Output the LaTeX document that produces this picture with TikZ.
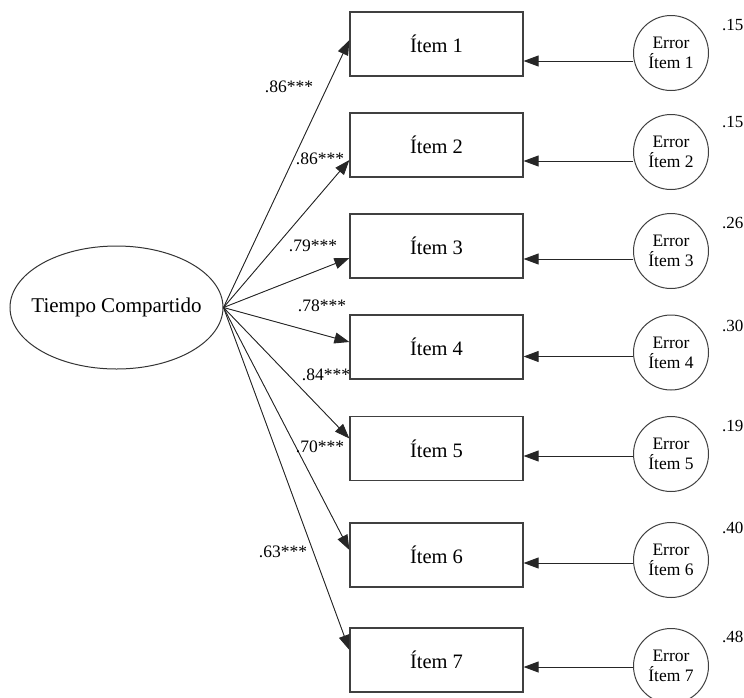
\documentclass[tikz,border=0pt]{standalone}
\usepackage{fontspec}
\setmainfont{Liberation Serif}
\usetikzlibrary{arrows.meta,shapes.geometric}

\begin{document}
\begin{tikzpicture}[
  x=1pt, y=-1pt,
  item/.style={draw=black!75, line width=1.2pt, minimum width=173pt, minimum height=64pt, inner sep=0pt, font=\fontsize{20.5}{24}\selectfont},
  error/.style={draw=black!75, line width=1pt, circle, minimum size=75pt, inner sep=0pt, align=center, font=\fontsize{17.5}{20}\selectfont},
  factor/.style={draw=black!80, line width=1pt, ellipse, minimum width=213pt, minimum height=123pt, inner xsep=-20pt, inner ysep=0pt, font=\fontsize{21}{24}\selectfont},
  coef/.style={font=\fontsize{17.5}{20}\selectfont, inner sep=0pt},
  var/.style={font=\fontsize{17}{20}\selectfont, inner sep=0pt, anchor=west},
  arr/.style={-{Triangle[length=15pt,width=11pt]}, line width=0.9pt, draw=black!85, fill=black}
]
\useasboundingbox (0,0) rectangle (744,697);

% latent factor
\node[factor] (tc) at (116.5,307.5) {Tiempo Compartido};

% items
\node[item] (i1) at (436.5,44) {Ítem 1};
\node[item] (i2) at (436.5,145) {Ítem 2};
\node[item] (i3) at (436.5,246) {Ítem 3};
\node[item] (i4) at (436.5,347) {Ítem 4};
\node[item] (i5) at (436.5,448.5) {Ítem 5};
\node[item] (i6) at (436.5,555) {Ítem 6};
\node[item] (i7) at (436.5,660) {Ítem 7};

% errors
\node[error] (e1) at (671,53) {Error\\Ítem 1};
\node[error] (e2) at (671,152) {Error\\Ítem 2};
\node[error] (e3) at (671,251) {Error\\Ítem 3};
\node[error] (e4) at (671,352.5) {Error\\Ítem 4};
\node[error] (e5) at (671,454) {Error\\Ítem 5};
\node[error] (e6) at (671,560) {Error\\Ítem 6};
\node[error] (e7) at (671,666) {Error\\Ítem 7};

% error variances
\node[var] (v1) at (722,25) {.15};
\node[var] (v2) at (722,122) {.15};
\node[var] (v3) at (722,223) {.26};
\node[var] (v4) at (722,326) {.30};
\node[var] (v5) at (722,426) {.19};
\node[var] (v6) at (722,528) {.40};
\node[var] (v7) at (722,637) {.48};

% loadings
\draw[arr] (tc.east) -- ([yshift=4]i1.west);
\draw[arr] (tc.east) -- ([yshift=-15]i2.west);
\draw[arr] (tc.east) -- ([yshift=-12]i3.west);
\draw[arr] (tc.east) -- ([yshift=5]i4.west);
\draw[arr] (tc.east) -- ([yshift=10]i5.west);
\draw[arr] (tc.east) -- ([yshift=5]i6.west);
\draw[arr] (tc.east) -- ([yshift=10]i7.west);

\node[coef] (c1) at (289,87) {.86***};
\node[coef] (c2) at (320,159) {.86***};
\node[coef] (c3) at (313,246) {.79***};
\node[coef] (c4) at (322,306) {.78***};
\node[coef] (c5) at (326,375) {.84***};
\node[coef] (c6) at (320,447) {.70***};
\node[coef] (c7) at (283,552) {.63***};

% error paths
\draw[arr] ([yshift=-8]e1.west) -- ([yshift=-8]e1.west -| i1.east);
\draw[arr] ([yshift=-9]e2.west) -- ([yshift=-9]e2.west -| i2.east);
\draw[arr] ([yshift=-8]e3.west) -- ([yshift=-8]e3.west -| i3.east);
\draw[arr] ([yshift=-4]e4.west) -- ([yshift=-4]e4.west -| i4.east);
\draw[arr] ([yshift=-2]e5.west) -- ([yshift=-2]e5.west -| i5.east);
\draw[arr] ([yshift=-3]e6.west) -- ([yshift=-3]e6.west -| i6.east);
\draw[arr] ([yshift=-1]e7.west) -- ([yshift=-1]e7.west -| i7.east);
\end{tikzpicture}
\end{document}
